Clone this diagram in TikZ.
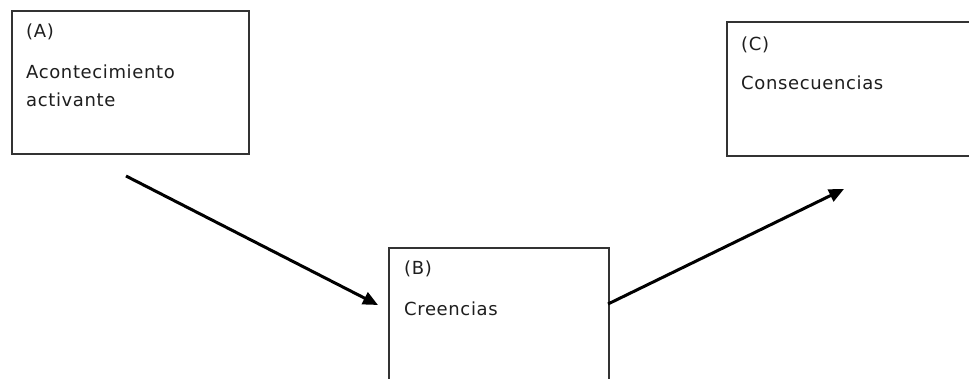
\documentclass[tikz,border=0pt]{standalone}
\usepackage{fontspec}
\setmainfont{DejaVu Sans}[LetterSpace=3.5]
\usetikzlibrary{arrows.meta}
\definecolor{ink}{HTML}{1E1E1E}
\definecolor{frame}{HTML}{333333}
\tikzset{
  box/.style={draw=frame, line width=1.7pt, fill=white, rectangle, inner sep=0pt, anchor=north west},
  lbl/.style={anchor=base west, inner sep=0pt, text=ink, font=\fontsize{18}{28}\selectfont},
  flow/.style={line width=3pt, draw=black, -{Triangle[length=15pt,width=13pt]}}
}
\begin{document}
\begin{tikzpicture}[x=1pt, y=-1pt]
  \useasboundingbox (0,0) rectangle (969,379);
  \clip (0,0) rectangle (969,379);

  % three stages of the ABC model
  \node[box, minimum width=237pt, minimum height=143pt] (A) at (11,10) {};
  \node[box, minimum width=260pt, minimum height=134pt] (C) at (726,21) {};
  \node[box, minimum width=220pt, minimum height=150pt] (B) at (388,247) {};

  \node[lbl] (Atag) at (26,38) {(A)};
  \node[lbl] (Atxt1) at (26,79) {Acontecimiento};
  \node[lbl] (Atxt2) at (26,107) {activante};

  \node[lbl] (Btag) at (404,275) {(B)};
  \node[lbl] (Btxt) at (404,316) {Creencias};

  \node[lbl] (Ctag) at (741,51) {(C)};
  \node[lbl] (Ctxt) at (741,90) {Consecuencias};

  % connectors
  \coordinate (a1) at (126,176);
  \coordinate (b1) at (378,305);
  \coordinate (b2) at (608,304);
  \coordinate (c1) at (844,189);
  \draw[flow] (a1) -- (b1);
  \draw[flow] (b2) -- (c1);
\end{tikzpicture}
\end{document}
